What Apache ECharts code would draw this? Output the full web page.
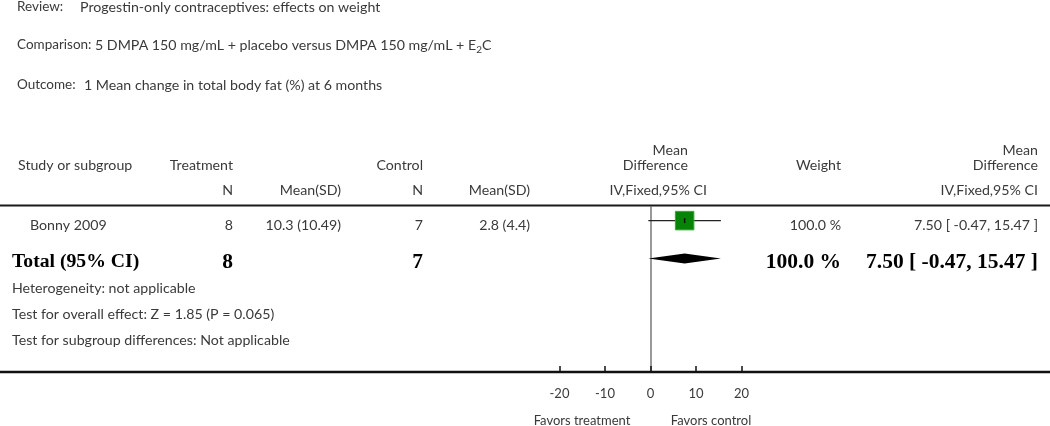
<!DOCTYPE html>
<html>
<head>
<meta charset="utf-8">
<script src="https://cdn.jsdelivr.net/npm/echarts@6/dist/echarts.min.js"></script>
<style>html,body{margin:0;padding:0;background:#fff}#c{width:1050px;height:426px}</style>
</head>
<body>
<div id="c"></div>
<script>
// ---------- data ----------
const reviewTitle = "Progestin-only contraceptives: effects on weight";
const comparisonText = "5 DMPA 150 mg/mL + placebo versus DMPA 150 mg/mL + E";
const comparisonSub = "2";
const comparisonTail = "C";
const outcomeText = "1 Mean change in total body fat (%) at 6 months";

const studies = ["Bonny 2009"];
const treatN = [8];
const treatMean = [10.3];
const treatSD = [10.49];
const ctrlN = [7];
const ctrlMean = [2.8];
const ctrlSD = [4.4];
const weights = [100.0];
const meanDiff = [7.50];
const ciLow = [-0.47];
const ciHigh = [15.47];

const totalLabel = "Total (95% CI)";
const totalTreatN = 8;
const totalCtrlN = 7;
const totalWeight = 100.0;
const totalMD = 7.50;
const totalLow = -0.47;
const totalHigh = 15.47;

const heterogeneityText = "Heterogeneity: not applicable";
const overallZ = 1.85;
const overallP = "0.065";
const subgroupText = "Test for subgroup differences: Not applicable";

const xTicks = [-20, -10, 0, 10, 20];
const favorLeft = "Favors treatment";
const favorRight = "Favors control";

// ---------- layout / style ----------
const FONT = "Lato";
const FS = 14.2;
const TXT = "#3a3a3a";
const SERIF = "'Liberation Serif'";

const chart = echarts.init(document.getElementById('c'), null, {renderer: 'canvas'});

const ctx = document.createElement('canvas').getContext('2d');
function measure(t, font) { ctx.font = font; return ctx.measureText(t).width; }

function txt(text, x, y, align, opts) {
  opts = opts || {};
  return {
    type: 'text', silent: true, z: 10,
    style: {
      text: text, x: x, y: y,
      textAlign: align || 'left', textVerticalAlign: 'middle',
      font: (opts.bold ? 'bold ' : '') + (opts.size || FS) + 'px ' + (opts.family || FONT),
      fill: opts.color || TXT
    }
  };
}

const fmtCI = (m, l, h) => m.toFixed(2) + " [ " + l.toFixed(2) + ", " + h.toFixed(2) + " ]";

const g = [];
// titles
const LBL = {size: 13.5};
g.push(txt("Review:", 17, 7, 'left', LBL));
g.push(txt(reviewTitle, 80, 7));
g.push(txt("Comparison:", 17, 45, 'left', LBL));
const cx0 = 95;
g.push(txt(comparisonText, cx0, 45));
const wMain = measure(comparisonText, FS + 'px ' + FONT);
g.push(txt(comparisonSub, cx0 + wMain, 50, 'left', {size: 10}));
const wSub = measure(comparisonSub, '10px ' + FONT);
g.push(txt(comparisonTail, cx0 + wMain + wSub, 45));
g.push(txt("Outcome:", 17, 85, 'left', LBL));
g.push(txt(outcomeText, 84, 85));

// header
g.push(txt("Study or subgroup", 18, 165));
g.push(txt("Treatment", 233, 165, 'right'));
g.push(txt("Control", 423, 165, 'right'));
g.push(txt("Mean", 688, 150, 'right'));
g.push(txt("Difference", 688, 165, 'right'));
g.push(txt("Weight", 841, 165, 'right'));
g.push(txt("Mean", 1038, 150, 'right'));
g.push(txt("Difference", 1038, 165, 'right'));
g.push(txt("N", 233, 190, 'right'));
g.push(txt("Mean(SD)", 341, 190, 'right'));
g.push(txt("N", 423, 190, 'right'));
g.push(txt("Mean(SD)", 530, 190, 'right'));
g.push(txt("IV,Fixed,95% CI", 707, 190, 'right'));
g.push(txt("IV,Fixed,95% CI", 1038, 190, 'right'));

// study rows
studies.forEach((s, i) => {
  const y = 225 + i * 37;
  g.push(txt(s, 30, y));
  g.push(txt(String(treatN[i]), 233, y, 'right'));
  g.push(txt(treatMean[i].toFixed(1) + " (" + String(treatSD[i]) + ")", 341, y, 'right'));
  g.push(txt(String(ctrlN[i]), 423, y, 'right'));
  g.push(txt(ctrlMean[i].toFixed(1) + " (" + String(ctrlSD[i]) + ")", 530, y, 'right'));
  g.push(txt(weights[i].toFixed(1) + " %", 841, y, 'right'));
  g.push(txt(fmtCI(meanDiff[i], ciLow[i], ciHigh[i]), 1038, y, 'right'));
});

// total row
const bOpt = {bold: true, size: 19.7, family: SERIF, color: '#000'};
const nOpt = {bold: true, size: 21.5, family: SERIF, color: '#000'};
g.push(txt(totalLabel, 12, 262, 'left', bOpt));
g.push(txt(String(totalTreatN), 233, 262, 'right', nOpt));
g.push(txt(String(totalCtrlN), 423, 262, 'right', nOpt));
g.push(txt(totalWeight.toFixed(1) + " %", 841, 262, 'right', nOpt));
g.push(txt(fmtCI(totalMD, totalLow, totalHigh), 1038, 262, 'right', nOpt));

// footnotes
g.push(txt(heterogeneityText, 12, 288));
g.push(txt("Test for overall effect: Z = " + overallZ.toFixed(2) + " (P = " + overallP + ")", 12, 314));
g.push(txt(subgroupText, 12, 340));

// favors
g.push(txt(favorLeft, 582, 421, 'center', {size: 13}));
g.push(txt(favorRight, 711, 421, 'center', {size: 13}));

// rules
g.push({type: 'line', silent: true, z: 5, shape: {x1: 0, y1: 205.5, x2: 1050, y2: 205.5}, style: {stroke: '#1a1a1a', lineWidth: 2.2}});
g.push({type: 'line', silent: true, z: 5, shape: {x1: 0, y1: 372, x2: 1050, y2: 372}, style: {stroke: '#111', lineWidth: 2.6}});

const studyData = studies.map((s, i) => [meanDiff[i], ciLow[i], ciHigh[i], i + 1, weights[i]]);
const totalData = [[totalMD, totalLow, totalHigh, studies.length + 1]];

const option = {
  animation: false,
  backgroundColor: '#fff',
  grid: {left: 559.5, right: 308.5, top: 207, bottom: 54},
  xAxis: {
    type: 'value', min: -20, max: 20, interval: 10,
    axisLine: {show: false},
    axisTick: {show: true, inside: true, length: 6, lineStyle: {color: '#111', width: 1.5}},
    axisLabel: {show: true, margin: 15, fontFamily: FONT, fontSize: 13, color: TXT,
      customValues: xTicks},
    splitLine: {show: false}
  },
  yAxis: {
    type: 'value', min: 0.64, max: 5, inverse: true,
    axisLine: {show: true, onZero: true, lineStyle: {color: '#777', width: 1.5}},
    axisTick: {show: false}, axisLabel: {show: false}, splitLine: {show: false}
  },
  series: [
    {
      type: 'custom', data: studyData, encode: {x: [0, 1, 2], y: 3}, clip: false,
      renderItem: function (params, api) {
        const est = api.value(0), lo = api.value(1), hi = api.value(2), row = api.value(3), w = api.value(4);
        const pL = api.coord([lo, row]), pH = api.coord([hi, row]), pE = api.coord([est, row]);
        const s = 18.5 * Math.sqrt(w / 100);
        return {type: 'group', children: [
          {type: 'line', shape: {x1: pL[0], y1: pL[1], x2: pH[0], y2: pH[1]}, style: {stroke: '#222', lineWidth: 1.4}},
          {type: 'rect', shape: {x: pE[0] - s / 2, y: pE[1] - s / 2, width: s, height: s}, style: {fill: '#078307', stroke: '#3f9f3f', lineWidth: 1}},
          {type: 'line', shape: {x1: pE[0], y1: pE[1] - 2.5, x2: pE[0], y2: pE[1] + 2.5}, style: {stroke: '#111', lineWidth: 1.5}}
        ]};
      }
    },
    {
      type: 'custom', data: totalData, encode: {x: [0, 1, 2], y: 3}, clip: false,
      renderItem: function (params, api) {
        const est = api.value(0), lo = api.value(1), hi = api.value(2), row = api.value(3);
        const pL = api.coord([lo, row]), pH = api.coord([hi, row]), pE = api.coord([est, row]);
        return {type: 'polygon', shape: {points: [[pL[0], pL[1]], [pE[0], pE[1] - 5], [pH[0], pH[1]], [pE[0], pE[1] + 5]]},
          style: {fill: '#000'}};
      }
    }
  ],
  graphic: g
};
chart.setOption(option);
</script>
</body>
</html>
